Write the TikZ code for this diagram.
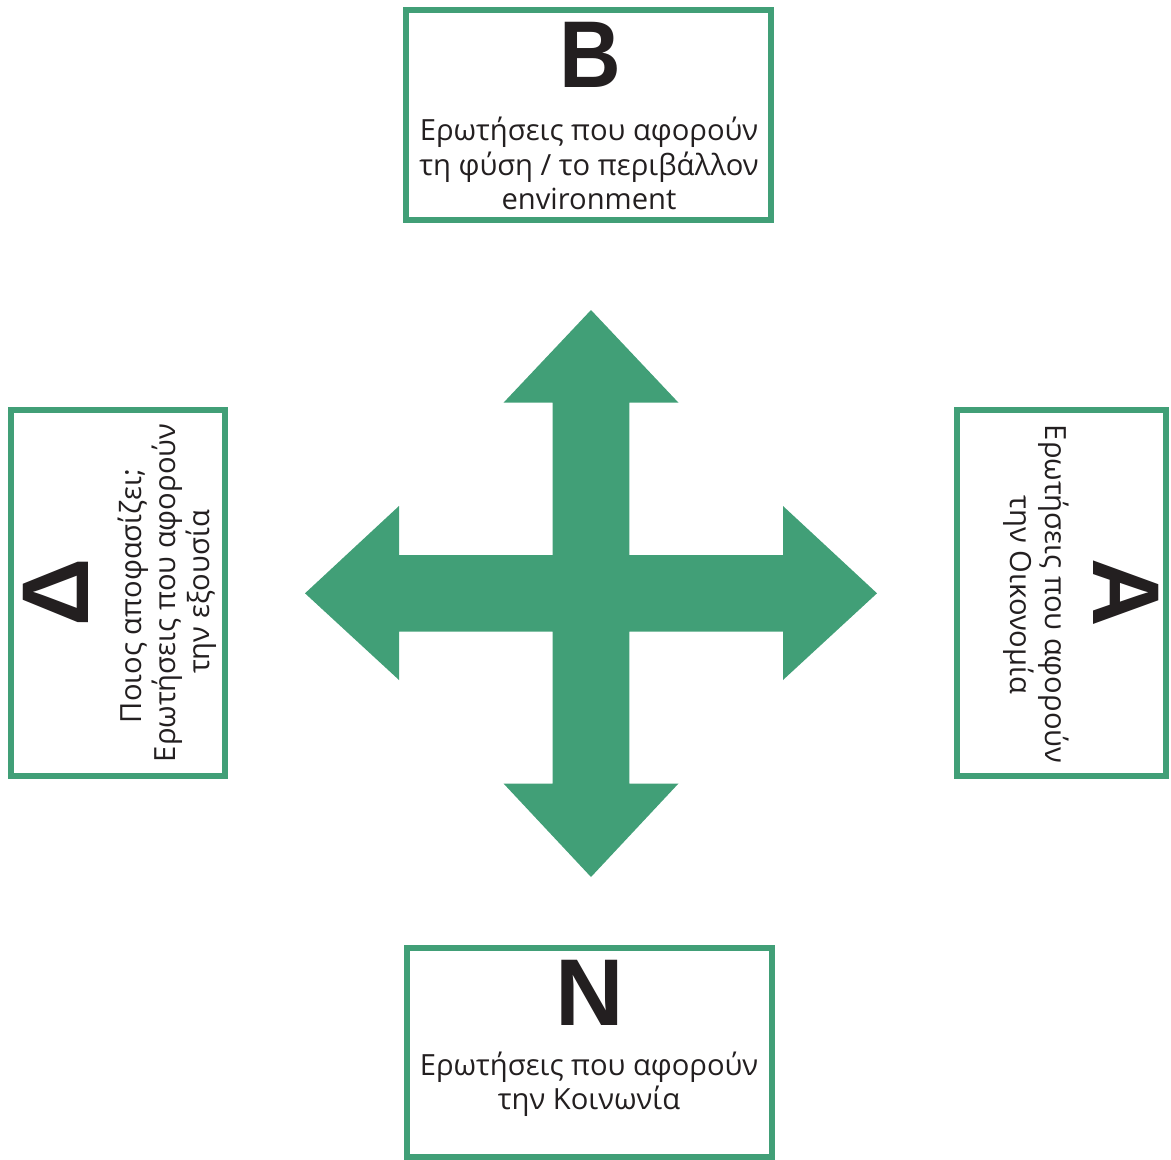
\documentclass[tikz,border=0pt]{standalone}
\usepackage{fontspec}
\setmainfont{Open Sans}
\newfontfamily\letterfont{Liberation Sans}
\usepackage{tikz}
\usetikzlibrary{positioning}
\definecolor{themegreen}{RGB}{65,159,119}
\definecolor{textgray}{RGB}{35,31,32}

\begin{document}
\begin{tikzpicture}[x=0.02cm, y=-0.02cm]
\tikzset{theme box/.style={
    draw=themegreen, line width=0.12cm, fill=white,
    inner sep=0pt, anchor=center
  },
  big letter/.style={
    font=\letterfont\bfseries\fontsize{54}{54}\selectfont,
    text=textgray, inner sep=0pt, anchor=base
  },
  box text/.style={
    font=\fontsize{16.6}{19.9}\selectfont,
    text=textgray, inner sep=0pt, anchor=base, align=center
  }
}

\useasboundingbox (0,0) rectangle (1171,1160);

% arrow cross
\coordinate (mid) at (591,593.3);
\fill[themegreen] (591,310) -- (678.5,402.7) -- (629.3,402.7) -- (629.3,555)
  -- (783,555) -- (783,506) -- (877,593.3) -- (783,680) -- (783,631.7)
  -- (629.3,631.7) -- (629.3,783.5) -- (678.5,783.5) -- (591,877)
  -- (503.5,783.5) -- (552.7,783.5) -- (552.7,631.7) -- (399,631.7)
  -- (399,680) -- (305,593.3) -- (399,506) -- (399,555) -- (552.7,555)
  -- (552.7,402.7) -- (503.5,402.7) -- cycle;

% boxes
\node[theme box, minimum width=7.31cm, minimum height=4.21cm] (boxB) at (588.75,114.75) {};
\node[theme box, minimum width=7.31cm, minimum height=4.19cm] (boxN) at (589.25,1052.25) {};
\node[theme box, minimum width=4.3cm, minimum height=7.34cm] (boxD) at (118,593) {};
\node[theme box, minimum width=4.2cm, minimum height=7.34cm] (boxA) at (1061.5,593) {};

% top
\node[big letter, xscale=0.9] (letB) at (590,87.5) {B};
\node[box text] (txtB1) at (589,140) {Ερωτήσεις που αφορούν};
\node[box text] (txtB2) at (589,175) {τη φύση / το περιβάλλον};
\node[box text] (txtB3) at (589,209) {environment};

% bottom
\node[big letter] (letN) at (590,1025) {N};
\node[box text] (txtN1) at (589,1075) {Ερωτήσεις που αφορούν};
\node[box text] (txtN2) at (589,1109) {την Κοινωνία};

% left
\node[big letter, rotate=90] (letD) at (88,592) {Δ};
\node[box text, rotate=90] (txtD1) at (141,596) {Ποιος αποφασίζει;};
\node[box text, rotate=90] (txtD2) at (175,593) {Ερωτήσεις που αφορούν};
\node[box text, rotate=90] (txtD3) at (209,592) {την εξουσία};

% right
\node[big letter, rotate=-90] (letA) at (1093,593) {A};
\node[box text, rotate=-90] (txtA1) at (1045,594) {Ερωτήσεις που αφορούν};
\node[box text, rotate=-90] (txtA2) at (1010,595) {την Οικονομία};

\end{tikzpicture}
\end{document}
